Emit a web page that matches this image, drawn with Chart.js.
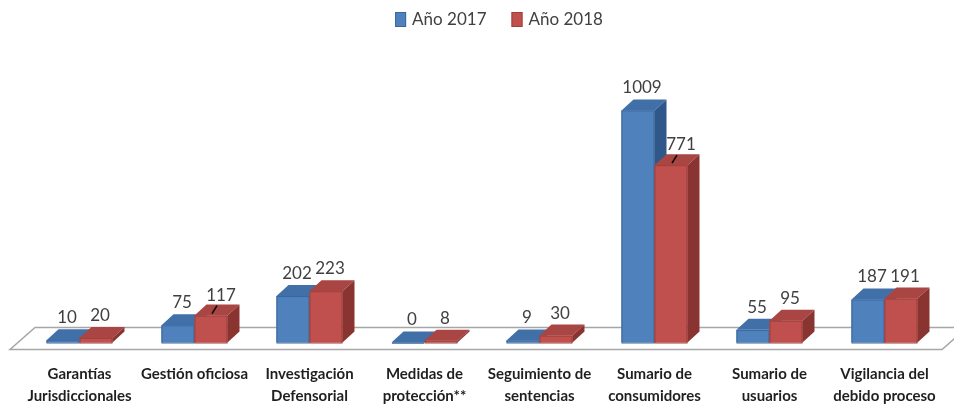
<!DOCTYPE html>
<html>
<head>
<meta charset="utf-8">
<script src="https://cdn.jsdelivr.net/npm/chart.js@4/dist/chart.umd.min.js"></script>
<style>
  body { margin: 0; background: #fff; }
  #wrap { width: 954px; height: 408px; }
</style>
</head>
<body>
<div id="wrap"><canvas id="chart" width="954" height="408"></canvas></div>
<script>
const categories = [
    ['Garantías', 'Jurisdiccionales'],
    'Gestión oficiosa',
    ['Investigación', 'Defensorial'],
    ['Medidas de', 'protección**'],
    ['Seguimiento de', 'sentencias'],
    ['Sumario de', 'consumidores'],
    ['Sumario de', 'usuarios'],
    ['Vigilancia del', 'debido proceso']
];
const values2017 = [10, 75, 202, 0, 9, 1009, 55, 187];
const values2018 = [20, 117, 223, 8, 30, 771, 95, 191];

// colours for front / top / side faces
const faces = [
    { front: '#4F81BD', border: '#3B679C', top: '#4170A8', side: '#30578A' },
    { front: '#C0504D', border: '#A03E3B', top: '#A94542', side: '#8A3431' }
];
const DX = 12, DY = 11;
// labels Excel pushed off the bar with a leader line: [dataset, index]
const leaderLabels = [[1, 1], [1, 5]];

const bars3d = {
    id: 'bars3d',
    beforeDatasetsDraw(chart) {
        const { ctx, chartArea } = chart;
        const base = chart.scales.y.getPixelForValue(0);
        ctx.save();
        ctx.beginPath();
        ctx.moveTo(chartArea.left - 12, base + 7);
        ctx.lineTo(chartArea.right, base + 7);
        ctx.lineTo(chartArea.right + 25, base - 15);
        ctx.lineTo(chartArea.left + 13, base - 15);
        ctx.closePath();
        ctx.fillStyle = '#ffffff';
        ctx.fill();
        ctx.strokeStyle = '#a6a6a6';
        ctx.lineWidth = 1.5;
        ctx.stroke();
        ctx.restore();
    },
    afterDatasetsDraw(chart) {
        const { ctx } = chart;
        const metas = [chart.getDatasetMeta(0), chart.getDatasetMeta(1)];
        ctx.save();
        for (let i = 0; i < categories.length; i++) {
            metas.forEach((meta, d) => {
                const bar = meta.data[i];
                const w = bar.width;
                const x = bar.x - w / 2;
                const top = bar.y;
                const base = bar.base;
                const c = faces[d];
                // front
                ctx.fillStyle = c.front;
                ctx.fillRect(x, top, w, base - top);
                ctx.strokeStyle = c.border;
                ctx.lineWidth = 1;
                ctx.strokeRect(x + 0.5, top + 0.5, w - 1, base - top);
                // top
                ctx.beginPath();
                ctx.moveTo(x, top);
                ctx.lineTo(x + DX, top - DY);
                ctx.lineTo(x + w + DX, top - DY);
                ctx.lineTo(x + w, top);
                ctx.closePath();
                ctx.fillStyle = c.top;
                ctx.fill();
                // side
                ctx.beginPath();
                ctx.moveTo(x + w, top);
                ctx.lineTo(x + w + DX, top - DY);
                ctx.lineTo(x + w + DX, base - DY);
                ctx.lineTo(x + w, base);
                ctx.closePath();
                ctx.fillStyle = c.side;
                ctx.fill();
            });
        }
        // value labels
        ctx.font = '17px Lato';
        ctx.fillStyle = '#404040';
        ctx.textAlign = 'center';
        ctx.textBaseline = 'bottom';
        metas.forEach((meta, d) => {
            const vals = d === 0 ? values2017 : values2018;
            meta.data.forEach((bar, i) => {
                let lx = bar.x + DX / 2 - 2;
                let ly = bar.y - DY - 3;
                const lead = leaderLabels.some(p => p[0] === d && p[1] === i);
                if (lead) {
                    ctx.strokeStyle = '#000';
                    ctx.lineWidth = 1.5;
                    ctx.beginPath();
                    ctx.moveTo(bar.x + 1, bar.y - 2);
                    ctx.lineTo(bar.x + 6, bar.y - 10);
                    ctx.stroke();
                    lx = bar.x + 10;
                    ly = bar.y - 12;
                }
                ctx.fillText(String(vals[i]), lx, ly);
            });
        });
        ctx.restore();
    },
    afterDraw(chart) {
        // legend, centred a little right of the plot like the original
        const { ctx } = chart;
        ctx.save();
        ctx.font = '17px Lato';
        ctx.textBaseline = 'middle';
        ctx.textAlign = 'left';
        const items = chart.data.datasets.map((ds, d) => ({ text: ds.label, c: faces[d], w: ctx.measureText(ds.label).width }));
        const total = items.reduce((s, it) => s + 11 + 6 + it.w, 0) + 25;
        let x = 499 - total / 2;
        items.forEach(it => {
            ctx.fillStyle = it.c.front;
            ctx.fillRect(x, 12, 11, 15);
            ctx.strokeStyle = it.c.border;
            ctx.lineWidth = 1;
            ctx.strokeRect(x + 0.5, 12.5, 10, 14);
            ctx.fillStyle = '#404040';
            ctx.fillText(it.text, x + 17, 19.5);
            x += 11 + 6 + it.w + 25;
        });
        ctx.restore();
    }
};

new Chart(document.getElementById('chart').getContext('2d'), {
    type: 'bar',
    data: {
        labels: categories,
        datasets: [
            { label: 'Año 2017', data: values2017, backgroundColor: faces[0].front, borderColor: faces[0].border, borderWidth: 1 },
            { label: 'Año 2018', data: values2018, backgroundColor: faces[1].front, borderColor: faces[1].border, borderWidth: 1 }
        ]
    },
    options: {
        responsive: false,
        animation: false,
        devicePixelRatio: 1,
        categoryPercentage: 0.574,
        barPercentage: 1,
        layout: { padding: { left: 22, right: 12, top: 40, bottom: -12 } },
        plugins: {
            legend: { display: false },
            tooltip: { enabled: false }
        },
        scales: {
            x: {
                grid: { display: false },
                border: { display: false },
                ticks: {
                    font: { family: 'Lato', size: 15, weight: 'bold', lineHeight: 1.45 },
                    color: '#1f1f1f',
                    maxRotation: 0,
                    autoSkip: false,
                    padding: 13
                }
            },
            y: {
                display: false,
                min: 0,
                max: 1315
            }
        }
    },
    plugins: [bars3d]
});
</script>
</body>
</html>
